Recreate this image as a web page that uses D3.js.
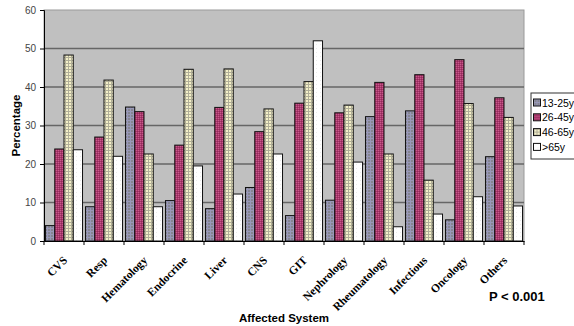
<!DOCTYPE html>
<html>
<head>
<meta charset="utf-8">
<script src="https://cdn.jsdelivr.net/npm/d3@7"></script>
<style>
  html, body { margin: 0; padding: 0; background: #fff; }
  svg { display: block; }
</style>
</head>
<body>
<svg id="chart" width="574" height="326"></svg>
<script>
// Affected systems by age group (percentage)
const categories = ["CVS", "Resp", "Hematology", "Endocrine", "Liver", "CNS", "GIT",
  "Nephrology", "Rheumatology", "Infectious", "Oncology", "Others"];
const seriesNames = ["13-25y", "26-45y", "46-65y", ">65y"];
const age13to25 = [4.0, 8.9, 34.8, 10.5, 8.4, 13.9, 6.6, 10.6, 32.3, 33.8, 5.5, 21.9];
const age26to45 = [23.9, 27.0, 33.6, 24.9, 34.7, 28.4, 35.8, 33.3, 41.2, 43.2, 47.1, 37.2];
const age46to65 = [48.3, 41.8, 22.6, 44.6, 44.7, 34.3, 41.4, 35.3, 22.6, 15.8, 35.7, 32.1];
const ageOver65 = [23.7, 22.0, 8.9, 19.5, 12.2, 22.6, 52.0, 20.5, 3.7, 7.0, 11.5, 9.1];
const yTicks = [0, 10, 20, 30, 40, 50, 60];

const seriesValues = [age13to25, age26to45, age46to65, ageOver65];

const svg = d3.select("#chart");
const margin = { left: 44, top: 10, right: 50, bottom: 85 };
const plotW = 480, plotH = 231;

const x = d3.scaleBand().domain(categories).range([margin.left, margin.left + plotW]).paddingInner(0).paddingOuter(0);
const xs = d3.scaleBand().domain(seriesNames).range([0, x.bandwidth()]).paddingInner(0).paddingOuter(0.16);
const y = d3.scaleLinear().domain([0, 60]).range([margin.top + plotH, margin.top]);

// Fill patterns for each age group
const defs = svg.append("defs");
const p1 = defs.append("pattern").attr("id", "pat1").attr("patternUnits", "userSpaceOnUse").attr("width", 3).attr("height", 3);
p1.append("rect").attr("width", 3).attr("height", 3).attr("fill", "#858590");
p1.append("rect").attr("width", 3).attr("height", 1).attr("fill", "#9898b8");
p1.append("rect").attr("width", 1).attr("height", 3).attr("fill", "#9898b8");

const p2 = defs.append("pattern").attr("id", "pat2").attr("patternUnits", "userSpaceOnUse").attr("width", 2).attr("height", 2);
p2.append("rect").attr("width", 2).attr("height", 2).attr("fill", "#a8386c");
p2.append("rect").attr("width", 1).attr("height", 1).attr("fill", "#c85a8a");
p2.append("rect").attr("x", 1).attr("y", 1).attr("width", 1).attr("height", 1).attr("fill", "#94285a");

const p3 = defs.append("pattern").attr("id", "pat3").attr("patternUnits", "userSpaceOnUse").attr("width", 3).attr("height", 3);
p3.append("rect").attr("width", 3).attr("height", 3).attr("fill", "#f4f0c8");
p3.append("rect").attr("width", 3).attr("height", 1).attr("fill", "#b0ae98");
p3.append("rect").attr("width", 1).attr("height", 3).attr("fill", "#b0ae98");

const p4 = defs.append("pattern").attr("id", "pat4").attr("patternUnits", "userSpaceOnUse").attr("width", 4).attr("height", 4);
p4.append("rect").attr("width", 4).attr("height", 4).attr("fill", "#ffffff");
p4.append("rect").attr("width", 1).attr("height", 1).attr("fill", "#ececec");

const fills = ["url(#pat1)", "url(#pat2)", "url(#pat3)", "url(#pat4)"];

// Plot area
svg.append("rect")
  .attr("x", margin.left).attr("y", margin.top)
  .attr("width", plotW).attr("height", plotH)
  .attr("fill", "#c0c0c0").attr("stroke", "#9a9a9a").attr("stroke-width", 1);

// Gridlines
svg.append("g").selectAll("line")
  .data(yTicks.filter(d => d > 0 && d < 60))
  .join("line")
  .attr("x1", margin.left).attr("x2", margin.left + plotW)
  .attr("y1", d => y(d)).attr("y2", d => y(d))
  .attr("stroke", "#666").attr("stroke-width", 1.4);

// Bars
const groups = svg.append("g").selectAll("g")
  .data(categories)
  .join("g")
  .attr("transform", d => `translate(${x(d)},0)`);

groups.selectAll("rect")
  .data((c, i) => seriesNames.map((s, k) => ({ s, k, v: seriesValues[k][i] })))
  .join("rect")
  .attr("x", d => xs(d.s))
  .attr("width", xs.bandwidth())
  .attr("y", d => y(d.v))
  .attr("height", d => y(0) - y(d.v))
  .attr("fill", d => fills[d.k])
  .attr("stroke", "#111")
  .attr("stroke-width", 1);

// Y axis
const yAxis = d3.axisLeft(y).tickValues(yTicks).tickSize(4).tickPadding(4);
const gy = svg.append("g").attr("transform", `translate(${margin.left},0)`).call(yAxis);
gy.select(".domain").attr("stroke", "#000");
gy.selectAll(".tick line").attr("stroke", "#000");
gy.selectAll("text").attr("font-family", "Arial, 'Liberation Sans', sans-serif")
  .attr("font-size", 10).attr("fill", "#444");

// X axis
const xAxis = d3.axisBottom(x).tickSize(0).tickPadding(0);
const gx = svg.append("g").attr("transform", `translate(0,${margin.top + plotH})`).call(xAxis);
gx.select(".domain").attr("stroke", "#000");
gx.selectAll(".tick text")
  .attr("font-family", "'Times New Roman', 'Liberation Serif', serif")
  .attr("font-weight", "bold").attr("font-size", 11.5).attr("fill", "#000")
  .attr("text-anchor", "end")
  .attr("dy", 0)
  .attr("transform", "translate(4,20) rotate(-45)")
  .attr("y", 0).attr("x", 0);
// category boundary ticks
svg.append("g").selectAll("line")
  .data(d3.range(categories.length + 1))
  .join("line")
  .attr("x1", i => margin.left + i * x.bandwidth())
  .attr("x2", i => margin.left + i * x.bandwidth())
  .attr("y1", margin.top + plotH)
  .attr("y2", margin.top + plotH + 4)
  .attr("stroke", "#000");

// Axis titles
svg.append("text")
  .attr("x", margin.left + plotW / 2).attr("y", 322)
  .attr("text-anchor", "middle")
  .attr("font-family", "Arial, 'Liberation Sans', sans-serif")
  .attr("font-weight", "bold").attr("font-size", 11.5)
  .text("Affected System");

svg.append("text")
  .attr("transform", `translate(20,${margin.top + plotH / 2}) rotate(-90)`)
  .attr("text-anchor", "middle")
  .attr("font-family", "Arial, 'Liberation Sans', sans-serif")
  .attr("font-weight", "bold").attr("font-size", 11.5)
  .text("Percentage");

svg.append("text")
  .attr("x", 489).attr("y", 301)
  .attr("font-family", "Arial, 'Liberation Sans', sans-serif")
  .attr("font-weight", "bold").attr("font-size", 13)
  .text("P < 0.001");

// Legend
const lg = svg.append("g").attr("transform", "translate(531,93)");
lg.append("rect").attr("width", 50).attr("height", 66)
  .attr("fill", "#fff").attr("stroke", "#333").attr("stroke-width", 1);
const items = lg.selectAll("g").data(seriesNames).join("g")
  .attr("transform", (d, i) => `translate(2.5,${6 + i * 14.8})`);
items.append("rect").attr("width", 7).attr("height", 7)
  .attr("fill", (d, i) => fills[i]).attr("stroke", "#111");
items.append("text").attr("x", 8.5).attr("y", 7.5)
  .attr("font-family", "Arial, 'Liberation Sans', sans-serif")
  .attr("font-size", 10.5).attr("fill", "#000")
  .text(d => d);
</script>
</body>
</html>
